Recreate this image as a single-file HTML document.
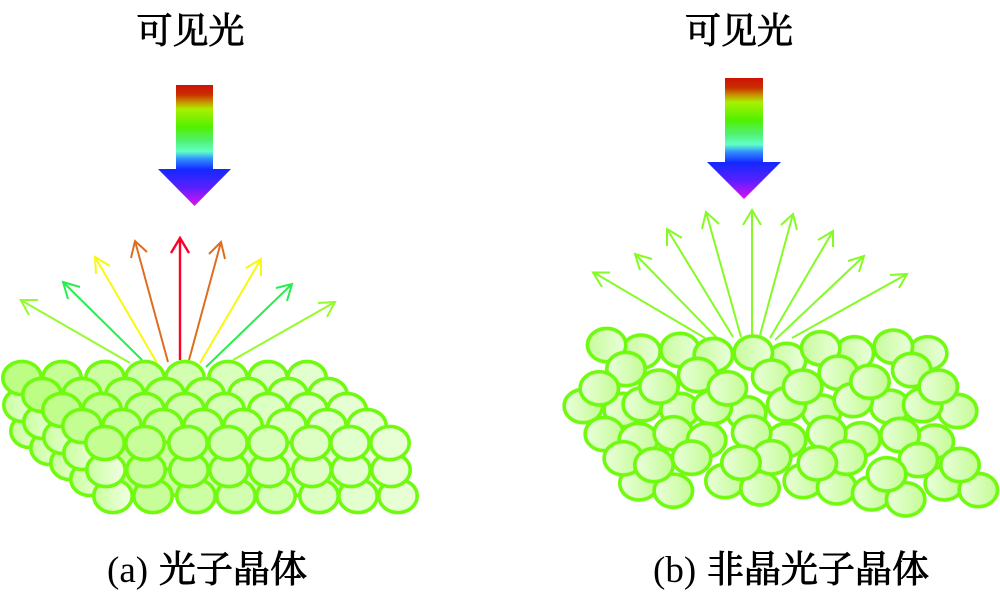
<!DOCTYPE html>
<html><head><meta charset="utf-8"><style>
html,body{margin:0;padding:0;background:#fff;width:1000px;height:594px;overflow:hidden}
svg{display:block}
text{fill:#000;font-family:"Liberation Serif","Noto Serif CJK SC",serif}
.cjk{font-weight:400;stroke:#000;stroke-width:.9px}
.soft{filter:blur(.3px)}
</style></head><body>
<svg xmlns="http://www.w3.org/2000/svg" width="1000" height="594" viewBox="0 0 1000 594">
<defs>
<linearGradient id="rb" x1="0" y1="0" x2="0" y2="1">
<stop offset="0" stop-color="#d01008"/><stop offset=".08" stop-color="#c83000"/><stop offset=".14" stop-color="#c89000"/><stop offset=".2" stop-color="#a8f000"/><stop offset=".35" stop-color="#50f000"/><stop offset=".46" stop-color="#50f070"/><stop offset=".55" stop-color="#60ffc8"/><stop offset=".61" stop-color="#3090ff"/><stop offset=".7" stop-color="#1428ff"/><stop offset=".85" stop-color="#5a20ff"/><stop offset="1" stop-color="#e010f0"/>
</linearGradient>
<linearGradient id="A"><stop offset="0" stop-color="#c8fc9c"/><stop offset="1" stop-color="#eaffdc"/></linearGradient>
<linearGradient id="B"><stop offset="0" stop-color="#eaffdc"/><stop offset="1" stop-color="#c4fc94"/></linearGradient>
<linearGradient id="L"><stop offset="0" stop-color="#c8ff9c"/><stop offset=".8" stop-color="#eaffd8"/><stop offset="1" stop-color="#eeffe0"/></linearGradient>
<g id="s"><ellipse cx="8" cy="53" rx="19.2" ry="16.6"/><ellipse cx="1" cy="27" rx="19.2" ry="16.6"/><ellipse cx="0" cy="0" rx="19.2" ry="16.6"/></g>
<g id="t"><ellipse cx="8" cy="53" rx="19.2" ry="16.6" fill="url(#L)"/><ellipse cx="1" cy="27" rx="19.2" ry="16.6" fill="url(#L)"/><ellipse cx="0" cy="0" rx="19.2" ry="16.6"/></g>
</defs>

<g class="soft">
<!-- big arrows -->
<path d="M176 85H213V169H231L194.500 206L158 169H176Z" fill="url(#rb)"/>
<path d="M725 78H763V162H781L744 199L707 162H725Z" fill="url(#rb)"/>

<!-- left arrows -->
<g fill="none" stroke-width="2">
<path stroke="#94fb2c" d="M130 363L20.700 300M38 300H20.700L29 315"/>
<path stroke="#28ec50" d="M142 360L63 282M80 287L63 282L68 299"/>
<path stroke="#f8f810" d="M157 363L95 257M110 266L95 257L96 274"/>
<path stroke="#e06c20" d="M168 362L135 241M147 252L135 241L131 258"/>
<path stroke="#ff0028" stroke-width="2.400" d="M180 360V238M171 253L180 238L189 253"/>
<path stroke="#e06c20" d="M189 360L221 242M209 254L221 242L225 259"/>
<path stroke="#f8f810" d="M200 363L261 259M246 268L261 259L261 276"/>
<path stroke="#28ec50" d="M206 367L292 284M276 288L292 284L287 301"/>
<path stroke="#94fb2c" d="M233 360L335 302M318 303L335 302L327 317"/>
</g>

<!-- right arrows -->
<g fill="none" stroke="#84fb24" stroke-width="2">
<path d="M705 338L593 272M610 272.500H593L602 287"/>
<path d="M717 338L635 254M652 259L635 254L640 270"/>
<path d="M733 337L667 229M682 238L667 229L667 246"/>
<path d="M741 337L706 212M719 224L706 212L702 229"/>
<path d="M752 335V210M743 225L752 210L761 225"/>
<path d="M760 335L793 214M781 225L793 214L797 230"/>
<path d="M770 338L833 231M818 240L833 231L833 247"/>
<path d="M775 340L864 256M848 261L864 256L859 272"/>
<path d="M792 338L907 274M890 275L907 274L899 288"/>
</g>

<!-- left crystal -->
<g stroke="#70fa10" stroke-width="3.600">
<use href="#t" x="22" y="378" fill="#bcfd84"/><use href="#s" x="62" y="378" fill="#c4fe94"/><use href="#s" x="105" y="378" fill="#cafea0"/><use href="#s" x="145" y="378" fill="#cefea8"/><use href="#s" x="185" y="378" fill="#d2feb0"/><use href="#s" x="228" y="378" fill="#d8ffbc"/><use href="#s" x="268" y="378" fill="#deffc6"/><use href="#s" x="307" y="378" fill="#e2ffce"/>
<use href="#t" x="42" y="395" fill="#bcfd84"/><use href="#s" x="82" y="395" fill="#c6fe98"/><use href="#s" x="125" y="395" fill="#cafea2"/><use href="#s" x="165" y="395" fill="#cefeaa"/><use href="#s" x="205" y="395" fill="#d4ffb4"/><use href="#s" x="248" y="395" fill="#daffbe"/><use href="#s" x="288" y="395" fill="#e0ffca"/><use href="#s" x="328" y="395" fill="#e4ffd0"/>
<use href="#t" x="62" y="410" fill="#c0fd8c"/><use href="#s" x="102" y="410" fill="#c6fe9a"/><use href="#s" x="145" y="410" fill="#ccfea4"/><use href="#s" x="185" y="410" fill="#d0feac"/><use href="#s" x="225" y="410" fill="#d6ffb6"/><use href="#s" x="268" y="410" fill="#dcffc2"/><use href="#s" x="308" y="410" fill="#e0ffca"/><use href="#s" x="347" y="410" fill="#e6ffd2"/>
<use href="#t" x="82" y="426" fill="#c4fd92"/><use href="#s" x="122" y="426" fill="#c8fe9c"/><use href="#s" x="163" y="426" fill="#ccfea4"/><use href="#s" x="203" y="426" fill="#d2feb0"/><use href="#s" x="243" y="426" fill="#d8ffba"/><use href="#s" x="287" y="426" fill="#deffc4"/><use href="#s" x="327" y="426" fill="#e2ffce"/><use href="#s" x="367" y="426" fill="#e6ffd4"/>
<use href="#t" x="105" y="443" fill="#c4fd92"/><use href="#s" x="145" y="443" fill="#c8fe9a"/><use href="#s" x="188" y="443" fill="#ccfea4"/><use href="#s" x="228" y="443" fill="#d2feb0"/><use href="#s" x="268" y="443" fill="#d8ffba"/><use href="#s" x="311" y="443" fill="#deffc4"/><use href="#s" x="350" y="443" fill="#e2ffce"/><use href="#s" x="390" y="443" fill="#e8ffd6"/>
</g>

<!-- right crystal -->
<g transform="translate(555 320) scale(.33333)" stroke="#70fa10" stroke-width="11">
<g fill="url(#A)">
<ellipse cx="258" cy="95" rx="57.600" ry="50"/><ellipse cx="155" cy="75" rx="57.600" ry="50"/><ellipse cx="375" cy="90" rx="57.600" ry="50"/><ellipse cx="475" cy="105" rx="57.600" ry="50"/><ellipse cx="695" cy="120" rx="57.600" ry="50"/><ellipse cx="595" cy="98" rx="57.600" ry="50"/><ellipse cx="898" cy="100" rx="57.600" ry="50"/><ellipse cx="797" cy="85" rx="57.600" ry="50"/><ellipse cx="1118" cy="100" rx="57.600" ry="50"/><ellipse cx="1015" cy="80" rx="57.600" ry="50"/>
</g>
<g fill="url(#B)">
<ellipse cx="205" cy="270" rx="57.600" ry="50"/><ellipse cx="375" cy="270" rx="57.600" ry="50"/><ellipse cx="575" cy="280" rx="57.600" ry="50"/><ellipse cx="800" cy="275" rx="57.600" ry="50"/><ellipse cx="1005" cy="260" rx="57.600" ry="50"/><ellipse cx="1208" cy="273" rx="57.600" ry="50"/><ellipse cx="85" cy="258" rx="57.600" ry="50"/>
<ellipse cx="213" cy="147" rx="57.600" ry="50"/><ellipse cx="428" cy="165" rx="57.600" ry="50"/><ellipse cx="650" cy="170" rx="57.600" ry="50"/><ellipse cx="850" cy="158" rx="57.600" ry="50"/><ellipse cx="1070" cy="150" rx="57.600" ry="50"/>
<ellipse cx="262" cy="253" rx="57.600" ry="50"/><ellipse cx="312" cy="200" rx="57.600" ry="50"/><ellipse cx="133" cy="205" rx="57.600" ry="50"/><ellipse cx="472" cy="262" rx="57.600" ry="50"/><ellipse cx="517" cy="205" rx="57.600" ry="50"/><ellipse cx="695" cy="253" rx="57.600" ry="50"/><ellipse cx="743" cy="200" rx="57.600" ry="50"/><ellipse cx="895" cy="240" rx="57.600" ry="50"/><ellipse cx="945" cy="185" rx="57.600" ry="50"/><ellipse cx="1103" cy="255" rx="57.600" ry="50"/><ellipse cx="1150" cy="200" rx="57.600" ry="50"/>
<ellipse cx="148" cy="342" rx="57.600" ry="50"/><ellipse cx="250" cy="360" rx="57.600" ry="50"/><ellipse cx="355" cy="340" rx="57.600" ry="50"/><ellipse cx="455" cy="360" rx="57.600" ry="50"/><ellipse cx="695" cy="360" rx="57.600" ry="50"/><ellipse cx="590" cy="338" rx="57.600" ry="50"/><ellipse cx="918" cy="358" rx="57.600" ry="50"/><ellipse cx="815" cy="340" rx="57.600" ry="50"/><ellipse cx="1138" cy="365" rx="57.600" ry="50"/><ellipse cx="1035" cy="345" rx="57.600" ry="50"/>
<ellipse cx="252" cy="490" rx="57.600" ry="50"/><ellipse cx="355" cy="512" rx="57.600" ry="50"/><ellipse cx="510" cy="483" rx="57.600" ry="50"/><ellipse cx="615" cy="505" rx="57.600" ry="50"/><ellipse cx="745" cy="483" rx="57.600" ry="50"/><ellipse cx="845" cy="502" rx="57.600" ry="50"/><ellipse cx="950" cy="520" rx="57.600" ry="50"/><ellipse cx="1052" cy="538" rx="57.600" ry="50"/><ellipse cx="1168" cy="490" rx="57.600" ry="50"/><ellipse cx="1270" cy="510" rx="57.600" ry="50"/>
<ellipse cx="205" cy="415" rx="57.600" ry="50"/><ellipse cx="297" cy="435" rx="57.600" ry="50"/><ellipse cx="410" cy="413" rx="57.600" ry="50"/><ellipse cx="650" cy="412" rx="57.600" ry="50"/><ellipse cx="558" cy="428" rx="57.600" ry="50"/><ellipse cx="875" cy="413" rx="57.600" ry="50"/><ellipse cx="787" cy="430" rx="57.600" ry="50"/><ellipse cx="1090" cy="420" rx="57.600" ry="50"/><ellipse cx="1215" cy="435" rx="57.600" ry="50"/><ellipse cx="995" cy="463" rx="57.600" ry="50"/>
</g>
</g>
</g>

<!-- labels -->
<text class="cjk" x="190.500" y="43" font-size="36" text-anchor="middle">可见光</text>
<text class="cjk" x="739" y="43" font-size="36" text-anchor="middle">可见光</text>
<text x="107" y="582" font-size="37">(a)</text>
<text class="cjk" x="159" y="582" font-size="37">光子晶体</text>
<text x="653" y="582" font-size="37">(b)</text>
<text class="cjk" x="707" y="582" font-size="37">非晶光子晶体</text>
</svg>
</body></html>
